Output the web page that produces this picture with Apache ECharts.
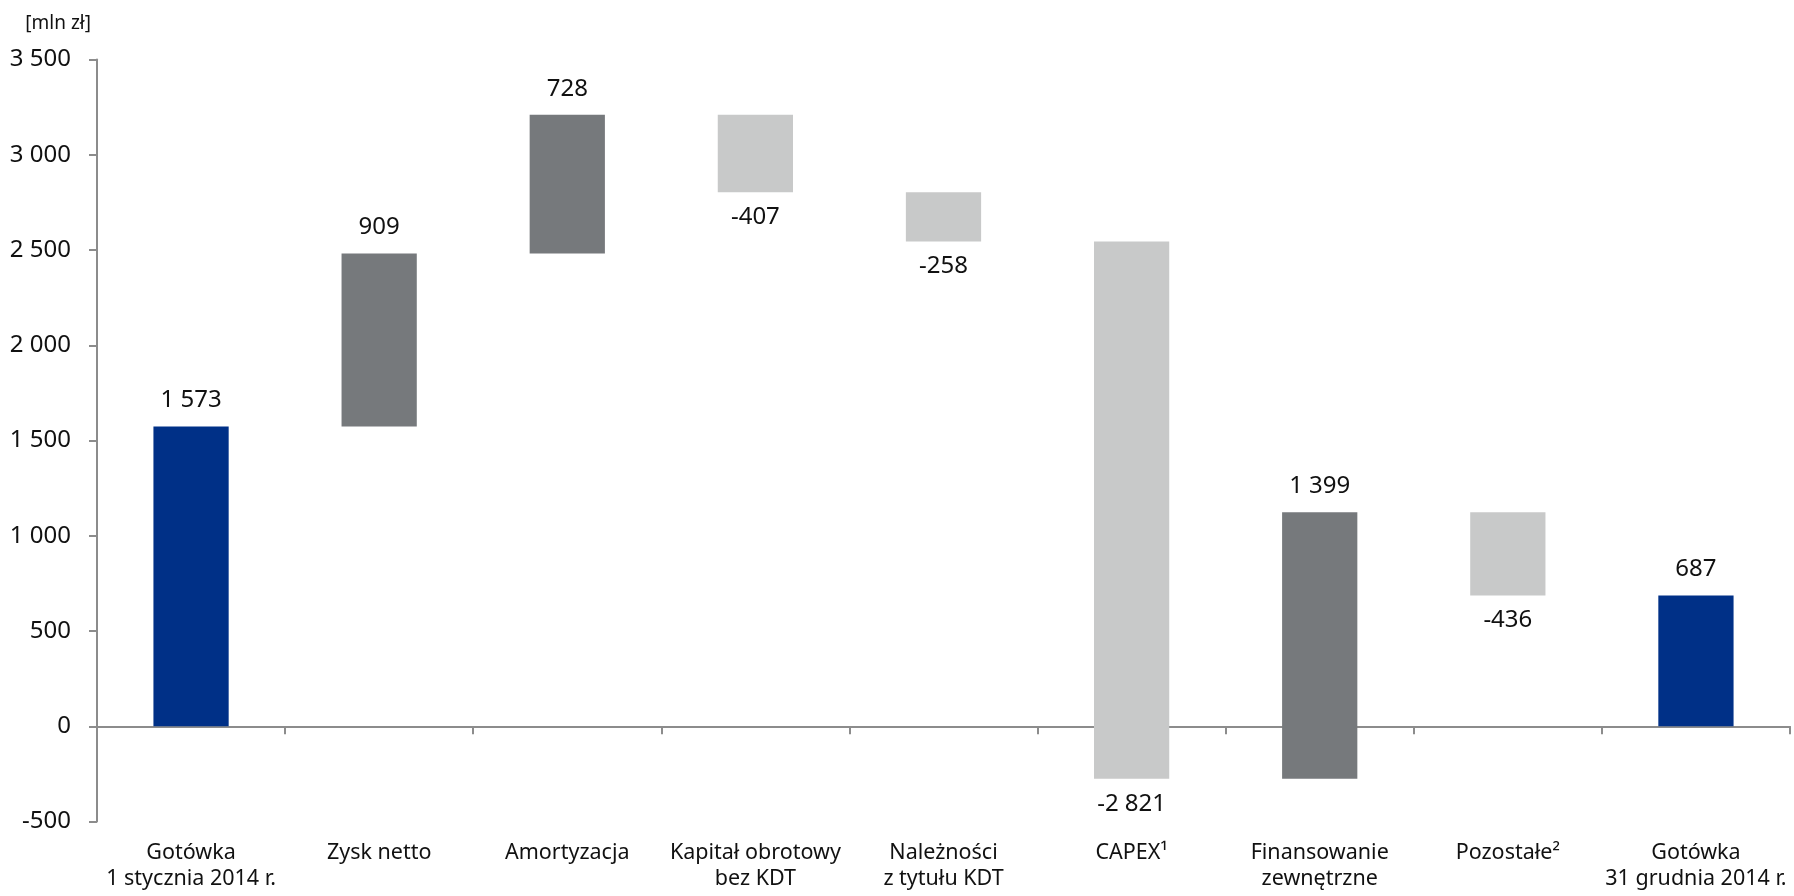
<!DOCTYPE html>
<html>
<head>
<meta charset="utf-8">
<title>Przepływy gotówki 2014</title>
<script src="https://cdn.jsdelivr.net/npm/echarts@6/dist/echarts.min.js"></script>
<style>
  html, body { margin: 0; padding: 0; background: #fff; }
  #chart { width: 1794px; height: 896px; }
</style>
</head>
<body>
<div id="chart"></div>
<script>
// dane (mln zł)
var categories = [
    'Gotówka\n1 stycznia 2014 r.',
    'Zysk netto',
    'Amortyzacja',
    'Kapitał obrotowy\nbez KDT',
    'Należności\nz tytułu KDT',
    'CAPEX¹',
    'Finansowanie\nzewnętrzne',
    'Pozostałe²',
    'Gotówka\n31 grudnia 2014 r.'
];
var values = [1573, 909, 728, -407, -258, -2821, 1399, -436, 687];
// 'total' = saldo od zera, 'delta' = zmiana
var kinds = ['total', 'delta', 'delta', 'delta', 'delta', 'delta', 'delta', 'delta', 'total'];
var yTicks = [-500, 0, 500, 1000, 1500, 2000, 2500, 3000, 3500];

var colors = {
    total: '#003087',
    up: '#76797c',
    down: '#c8c9c9'
};
var textColor = '#111';

// liczby z odstępem tysięcy
var fmt = function (v) {
    var s = String(Math.abs(v)).replace(/\B(?=(\d{3})+(?!\d))/g, ' ');
    return (v < 0 ? '-' : '') + s;
};

// budowa danych kaskady
var rows = [];
var running = 0;
values.forEach(function (v, i) {
    var start, end;
    if (kinds[i] === 'total') {
        start = 0;
        end = v;
        running = v;
    } else {
        start = running;
        end = running + v;
        running = end;
    }
    rows.push([i, start, end, v, kinds[i] === 'total' ? 0 : 1]);
});

var renderItem = function (params, api) {
    var i = api.value(0);
    var start = api.value(1);
    var end = api.value(2);
    var v = api.value(3);
    var isTotal = api.value(4) === 0;
    var catW = api.size([1, 0])[0];
    var w = catW * 0.4;
    var p1 = api.coord([i, Math.max(start, end)]);
    var p2 = api.coord([i, Math.min(start, end)]);
    var color = isTotal ? colors.total : (v >= 0 ? colors.up : colors.down);
    var label = v >= 0
        ? { x: p1[0], y: p1[1] - 14, verticalAlign: 'bottom' }
        : { x: p2[0], y: p2[1] + 13, verticalAlign: 'top' };
    return {
        type: 'group',
        children: [
            {
                type: 'rect',
                shape: { x: p1[0] - w / 2, y: p1[1], width: w, height: p2[1] - p1[1] },
                style: { fill: color }
            },
            {
                type: 'text',
                x: label.x,
                y: label.y,
                style: {
                    text: fmt(v),
                    fill: textColor,
                    fontSize: 24,
                    fontFamily: 'Noto Sans',
                    align: 'center',
                    verticalAlign: label.verticalAlign
                }
            }
        ]
    };
};

var chart = echarts.init(document.getElementById('chart'));
chart.setOption({
    animation: false,
    textStyle: { fontFamily: 'Noto Sans' },
    grid: { left: 97, right: 4, top: 59.5, bottom: 74.5, containLabel: false },
    xAxis: [
        {
            type: 'category',
            data: categories,
            position: 'bottom',
            axisLine: { onZero: true, lineStyle: { color: '#8c8c8c', width: 2 } },
            axisTick: { show: true, length: 8, lineStyle: { color: '#8c8c8c', width: 2 } },
            axisLabel: { show: false },
            splitLine: { show: false }
        },
        {
            type: 'category',
            data: categories,
            position: 'bottom',
            axisLine: { show: false, onZero: false },
            axisTick: { show: false },
            axisLabel: {
                show: true,
                interval: 0,
                color: textColor,
                fontSize: 21.5,
                lineHeight: 26,
                margin: 18,
                fontFamily: 'Noto Sans'
            },
            splitLine: { show: false }
        }
    ],
    yAxis: {
        type: 'value',
        min: yTicks[0],
        max: yTicks[yTicks.length - 1],
        interval: 500,
        name: '[mln zł]',
        nameLocation: 'end',
        nameGap: 26,
        nameTextStyle: {
            color: textColor,
            fontSize: 19,
            fontFamily: 'Noto Sans',
            align: 'right',
            padding: [0, 6, 0, 0]
        },
        axisLine: { show: true, lineStyle: { color: '#8c8c8c', width: 2 } },
        axisTick: { show: true, length: 8, lineStyle: { color: '#8c8c8c', width: 2 } },
        axisLabel: {
            color: textColor,
            fontSize: 24,
            margin: 26,
            fontFamily: 'Noto Sans',
            formatter: function (v) { return fmt(v); }
        },
        splitLine: { show: false }
    },
    series: [{
        type: 'custom',
        xAxisIndex: 0,
        yAxisIndex: 0,
        renderItem: renderItem,
        encode: { x: 0, y: [1, 2] },
        data: rows,
        clip: false
    }]
});
</script>
</body>
</html>
